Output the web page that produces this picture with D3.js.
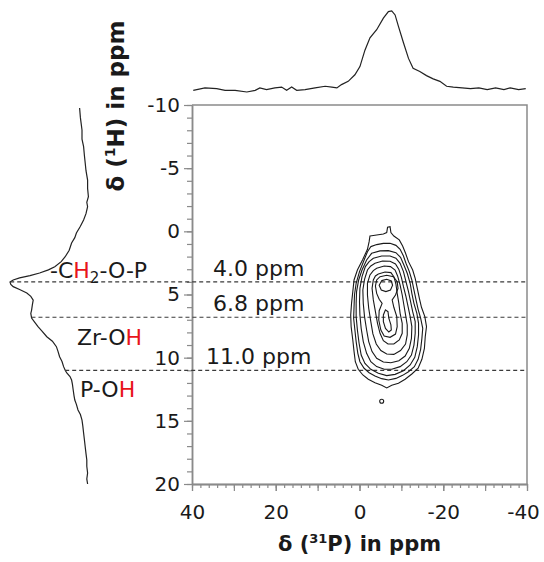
<!DOCTYPE html>
<html>
<head>
<meta charset="utf-8">
<script src="https://cdn.jsdelivr.net/npm/d3@7"></script>
<style>
body{margin:0;background:#fff}
svg{display:block}
text{font-family:"DejaVu Sans",sans-serif;fill:#1a1a1a}
</style>
</head>
<body>
<script>
// tick values
const xLabelTicks = [40, 20, 0, -20, -40];
const yLabelTicks = [-10, -5, 0, 5, 10, 15, 20];

// 31P projection (top)
const topPpm = [39.7,36.9,34.1,32.1,29.7,26.9,24.9,23.8,22.2,20.2,18.6,17.4,16.2,15.0,13.0,10.6,8.2,6.6,5.4,4.3,2.7,1.1,-0.1,-1.3,-2.5,-4.1,-5.7,-6.9,-7.7,-8.5,-9.3,-10.5,-11.7,-12.8,-14.4,-16.0,-17.6,-19.2,-20.8,-22.4,-24.5,-26.5,-28.5,-30.5,-32.5,-34.5,-36.0,-38.0,-39.7];
const topInt = [0.02,0.05,0.04,0.02,0.02,0.00,0.02,0.05,0.03,0.05,0.06,0.02,0.06,0.02,0.03,0.05,0.07,0.06,0.05,0.09,0.13,0.21,0.31,0.51,0.66,0.76,0.90,0.98,0.99,0.94,0.80,0.60,0.41,0.29,0.25,0.20,0.16,0.13,0.07,0.06,0.05,0.04,0.05,0.03,0.05,0.03,0.05,0.03,0.04];

// 1H projection (left)
const leftPpm = [-9.76,-9.0,-8.02,-7.3,-6.7,-6.0,-5.41,-4.8,-4.06,-3.4,-2.74,-2.3,-1.95,-1.4,-0.9,-0.4,0.13,0.5,0.92,1.5,2.01,2.4,2.8,3.05,3.3,3.5,3.69,3.85,4.01,4.2,4.38,4.6,4.88,5.15,5.44,5.8,6.23,6.5,6.86,7.2,7.55,7.9,8.34,8.7,9.13,9.5,9.92,10.3,10.71,11.0,11.21,11.5,11.77,12.1,12.56,13.0,13.35,13.7,14.14,14.5,14.94,15.4,15.96,16.5,17.05,17.6,18.1,18.6,19.13,19.6,20.0];
const leftInt = [0.13,0.12,0.10,0.10,0.08,0.07,0.06,0.05,0.03,0.03,0.02,0.04,0.03,0.05,0.08,0.12,0.17,0.19,0.23,0.26,0.31,0.36,0.44,0.52,0.63,0.75,0.88,0.96,1.00,0.99,0.96,0.88,0.79,0.74,0.71,0.72,0.73,0.74,0.73,0.69,0.65,0.60,0.54,0.47,0.42,0.40,0.38,0.35,0.33,0.31,0.29,0.25,0.23,0.22,0.21,0.20,0.19,0.17,0.15,0.12,0.10,0.09,0.08,0.07,0.06,0.05,0.04,0.04,0.03,0.04,0.03];

// marked 1H shifts
const markerPpm = [4.0, 6.8, 11.0];
const markerLabels = ["4.0 ppm", "6.8 ppm", "11.0 ppm"];

// contour lines, [31P ppm, 1H ppm], outer to inner
const contour1 = [[-2.5,0.37],[-4.1,0.29],[-5.7,0.21],[-6.5,0.10],[-6.7,-0.32],[-7.3,-0.37],[-7.5,0.10],[-8.2,0.37],[-9.5,0.68],[-10.3,1.16],[-11.0,1.74],[-11.7,2.40],[-12.7,3.06],[-13.3,3.72],[-13.8,4.51],[-14.3,5.30],[-14.8,6.01],[-15.6,6.75],[-16.0,7.54],[-15.7,8.34],[-15.5,9.26],[-14.9,10.13],[-14.0,10.84],[-12.5,11.29],[-10.9,11.71],[-9.3,12.03],[-7.7,12.19],[-6.5,12.40],[-5.3,12.19],[-3.7,11.98],[-2.1,11.71],[-0.8,11.37],[0.3,10.92],[1.0,10.32],[1.3,9.52],[1.6,8.60],[2.0,7.54],[2.1,6.62],[1.9,5.70],[1.6,4.77],[1.3,3.85],[0.5,3.06],[-0.8,2.21],[-1.9,1.42],[-2.3,0.82]];
const contour2 = [[-2.7,1.21],[-4.1,1.05],[-5.7,0.95],[-7.3,0.95],[-8.7,1.11],[-9.7,1.42],[-10.5,1.95],[-11.1,2.53],[-11.9,3.19],[-12.5,3.85],[-13.0,4.64],[-13.5,5.43],[-14.0,6.17],[-14.6,6.88],[-15.1,7.68],[-14.9,8.47],[-14.6,9.34],[-14.0,10.13],[-13.1,10.71],[-11.7,11.11],[-10.3,11.40],[-8.7,11.64],[-6.9,11.77],[-5.3,11.66],[-3.7,11.45],[-2.3,11.19],[-1.1,10.84],[-0.1,10.32],[0.4,9.66],[0.8,8.73],[1.1,7.81],[1.4,6.88],[1.3,5.96],[1.2,5.04],[0.8,4.11],[0.0,3.19],[-1.1,2.27],[-1.9,1.61]];
const contour3 = [[-2.9,1.74],[-4.9,1.55],[-6.9,1.53],[-8.7,1.69],[-9.8,2.06],[-10.6,2.66],[-11.4,3.32],[-12.1,4.11],[-12.5,4.91],[-13.0,5.70],[-13.7,6.49],[-14.1,7.28],[-14.1,8.20],[-13.8,9.13],[-13.2,9.97],[-12.1,10.58],[-10.5,11.03],[-8.5,11.32],[-6.5,11.42],[-4.5,11.24],[-2.7,10.92],[-1.3,10.45],[-0.4,9.79],[0.1,8.86],[0.5,7.81],[0.8,6.75],[0.8,5.70],[0.7,4.77],[0.2,3.85],[-0.6,3.06],[-1.7,2.27]];
const contour4 = [[-3.3,2.13],[-5.3,1.95],[-7.3,1.95],[-8.7,2.13],[-9.7,2.53],[-10.5,3.19],[-11.1,3.98],[-11.7,4.77],[-12.2,5.57],[-12.7,6.36],[-13.3,7.15],[-13.3,8.07],[-13.0,9.00],[-12.4,9.79],[-11.3,10.32],[-9.7,10.71],[-7.7,10.92],[-5.9,10.92],[-4.1,10.71],[-2.7,10.32],[-1.7,9.66],[-0.9,8.73],[-0.4,7.68],[-0.1,6.62],[0.0,5.57],[-0.1,4.51],[-0.6,3.59],[-1.4,2.79],[-2.3,2.40]];
const contour5 = [[-3.7,2.53],[-5.5,2.35],[-7.3,2.37],[-8.6,2.58],[-9.4,3.01],[-10.0,3.64],[-10.5,4.38],[-11.1,5.17],[-11.6,5.96],[-12.1,6.75],[-12.5,7.54],[-12.4,8.47],[-11.9,9.26],[-10.9,9.87],[-9.4,10.24],[-7.5,10.40],[-5.7,10.34],[-4.1,10.05],[-3.0,9.52],[-2.2,8.73],[-1.7,7.81],[-1.2,6.75],[-0.9,5.70],[-0.8,4.64],[-1.2,3.80],[-1.9,3.06],[-2.7,2.74]];
const contour6 = [[-4.1,2.93],[-5.9,2.74],[-7.4,2.79],[-8.5,3.06],[-9.1,3.53],[-9.7,4.25],[-10.2,5.04],[-10.6,5.83],[-11.0,6.62],[-11.4,7.41],[-11.4,8.20],[-11.0,8.92],[-9.8,9.44],[-8.2,9.74],[-6.5,9.71],[-5.1,9.44],[-4.0,8.92],[-3.2,8.12],[-2.7,7.15],[-2.2,6.09],[-1.9,5.04],[-1.9,4.11],[-2.5,3.45],[-3.3,3.11]];
const contour7 = [[-4.5,3.38],[-6.1,3.22],[-7.5,3.27],[-8.2,3.59],[-8.7,4.17],[-9.0,4.91],[-9.4,5.70],[-9.7,6.49],[-10.2,7.28],[-10.2,8.07],[-9.5,8.60],[-8.2,8.92],[-6.8,8.92],[-5.7,8.65],[-4.9,8.07],[-4.3,7.28],[-3.8,6.36],[-3.3,5.43],[-3.0,4.51],[-3.3,3.85],[-3.8,3.53]];
const contour8 = [[-4.9,3.59],[-6.5,3.48],[-8.1,3.59],[-9.0,3.98],[-9.2,4.51],[-8.6,5.04],[-7.8,5.43],[-8.2,6.01],[-8.9,6.75],[-9.0,7.54],[-8.6,8.13],[-7.3,8.39],[-5.9,8.28],[-5.1,7.81],[-4.6,7.02],[-4.7,6.28],[-5.4,5.70],[-4.7,5.38],[-4.1,4.91],[-3.8,4.33],[-4.1,3.85]];
const contourPeak1 = [[-5.3,3.90],[-6.5,3.80],[-7.6,3.93],[-7.9,4.27],[-7.4,4.64],[-6.3,4.77],[-5.2,4.64],[-4.7,4.27]];
const contourPeak2 = [[-6.2,6.22],[-6.8,6.36],[-7.0,6.88],[-7.5,7.41],[-7.6,7.81],[-7.0,7.97],[-6.2,7.68],[-5.7,7.15],[-5.7,6.62]];
const contourDot = [-5.3, 13.45];

const W = 544, H = 562;
const svg = d3.select("body").append("svg").attr("width", W).attr("height", H);

const x = d3.scaleLinear().domain([40, -40]).range([192, 527]);
const y = d3.scaleLinear().domain([-10, 20]).range([105, 484]);
const yTop = d3.scaleLinear().domain([0, 1]).range([92, 10]);
const xLeft = d3.scaleLinear().domain([0, 1]).range([90, 10]);

const axisColor = "#8a8a8a";
const plain = d => String(d);   // hyphen minus like the original

// frame (top + right)
svg.append("path")
    .attr("d", `M${x(40)},${y(-10)}H${x(-40)}V${y(20)}`)
    .attr("fill", "none").attr("stroke", axisColor).attr("stroke-width", 1.5);

// left axis: minor ticks, then labelled ticks
svg.append("g").attr("transform", `translate(${x(40)},0)`)
    .call(d3.axisLeft(y).tickValues(d3.range(-10, 21, 1)).tickSize(5).tickSizeOuter(0).tickFormat(""));
const yMajor = svg.append("g").attr("transform", `translate(${x(40)},0)`)
    .call(d3.axisLeft(y).tickValues(yLabelTicks).tickSize(8).tickSizeOuter(0).tickPadding(4).tickFormat(plain));
yMajor.selectAll("text").style("font-size", "20px");

// bottom axis
svg.append("g").attr("transform", `translate(0,${y(20)})`)
    .call(d3.axisBottom(x).tickValues(d3.range(-40, 41, 2)).tickSize(4).tickSizeOuter(0).tickFormat(""));
svg.append("g").attr("transform", `translate(0,${y(20)})`)
    .call(d3.axisBottom(x).tickValues(d3.range(-40, 41, 10)).tickSize(7).tickSizeOuter(0).tickFormat(""));
const xMajor = svg.append("g").attr("transform", `translate(0,${y(20)})`)
    .call(d3.axisBottom(x).tickValues(xLabelTicks).tickSize(7).tickSizeOuter(0).tickPadding(14).tickFormat(plain));
xMajor.selectAll("text").style("font-size", "20px");
xMajor.selectAll("text").filter(d => d === -40).attr("dx", "-4");

svg.selectAll(".domain").attr("stroke", axisColor).attr("stroke-width", 1.5);
svg.selectAll(".tick line").attr("stroke", axisColor).attr("stroke-width", 1.2);
svg.selectAll(".tick text").attr("fill", "#1a1a1a");

// axis titles
const yTitle = svg.append("text")
    .attr("transform", `translate(124,106) rotate(-90)`)
    .attr("text-anchor", "middle")
    .style("font-size", "23px").style("font-weight", "bold");
yTitle.append("tspan").text("δ (");
yTitle.append("tspan").text("1").style("font-size", "14px").attr("dy", -9);
yTitle.append("tspan").text("H) in ppm").attr("dy", 9);

const xTitle = svg.append("text")
    .attr("x", x(0)).attr("y", 551)
    .attr("text-anchor", "middle")
    .style("font-size", "21px").style("font-weight", "bold");
xTitle.append("tspan").text("δ (");
xTitle.append("tspan").text("31").style("font-size", "13px").attr("dy", -8);
xTitle.append("tspan").text("P) in ppm").attr("dy", 8);

// projections
const topLine = d3.line().x((d, i) => x(topPpm[i])).y(d => yTop(d));
svg.append("path").datum(topInt)
    .attr("d", topLine)
    .attr("fill", "none").attr("stroke", "#222").attr("stroke-width", 1.2);

const leftLine = d3.line().x(d => xLeft(d)).y((d, i) => y(leftPpm[i]));
svg.append("path").datum(leftInt)
    .attr("d", leftLine)
    .attr("fill", "none").attr("stroke", "#222").attr("stroke-width", 1.2);

// dashed markers start at the projection curve
function leftAt(v) {
    const i = d3.bisectLeft(leftPpm, v);
    if (i <= 0) return leftInt[0];
    const t = (v - leftPpm[i - 1]) / (leftPpm[i] - leftPpm[i - 1]);
    return leftInt[i - 1] + t * (leftInt[i] - leftInt[i - 1]);
}
svg.selectAll(".marker").data(markerPpm).enter().append("line")
    .attr("class", "marker")
    .attr("x1", d => xLeft(leftAt(d))).attr("x2", x(-40))
    .attr("y1", d => y(d)).attr("y2", d => y(d))
    .attr("stroke", "#3a3a3a").attr("stroke-width", 1.2)
    .attr("stroke-dasharray", "4,3");

const labelX = [213, 213, 206];
svg.selectAll(".mlabel").data(markerPpm).enter().append("text")
    .attr("class", "mlabel")
    .attr("x", (d, i) => labelX[i]).attr("y", d => y(d) - 6)
    .style("font-size", "22px")
    .text((d, i) => markerLabels[i]);

// group labels on the 1H projection
const ch2 = svg.append("text").attr("x", 50).attr("y", 278).style("font-size", "22px");
ch2.append("tspan").text("-C");
ch2.append("tspan").text("H").attr("fill", "#e8141b");
ch2.append("tspan").text("2").style("font-size", "15px").attr("dy", 5);
ch2.append("tspan").text("-O-P").attr("dy", -5);

const zr = svg.append("text").attr("x", 77).attr("y", 345).style("font-size", "22px");
zr.append("tspan").text("Zr-O");
zr.append("tspan").text("H").attr("fill", "#e8141b");

const poh = svg.append("text").attr("x", 80).attr("y", 397).style("font-size", "22px");
poh.append("tspan").text("P-O");
poh.append("tspan").text("H").attr("fill", "#e8141b");

// contours
const contours = [contour1, contour2, contour3, contour4, contour5, contour6, contour7, contour8, contourPeak1, contourPeak2];
const cLine = d3.line().x(d => x(d[0])).y(d => y(d[1])).curve(d3.curveLinearClosed);
svg.selectAll(".contour").data(contours).enter().append("path")
    .attr("class", "contour")
    .attr("d", cLine)
    .attr("fill", "none").attr("stroke", "#1a1a1a").attr("stroke-width", 1.1);
svg.append("circle")
    .attr("cx", x(contourDot[0])).attr("cy", y(contourDot[1])).attr("r", 2)
    .attr("fill", "none").attr("stroke", "#1a1a1a").attr("stroke-width", 1.1);
</script>
</body>
</html>
